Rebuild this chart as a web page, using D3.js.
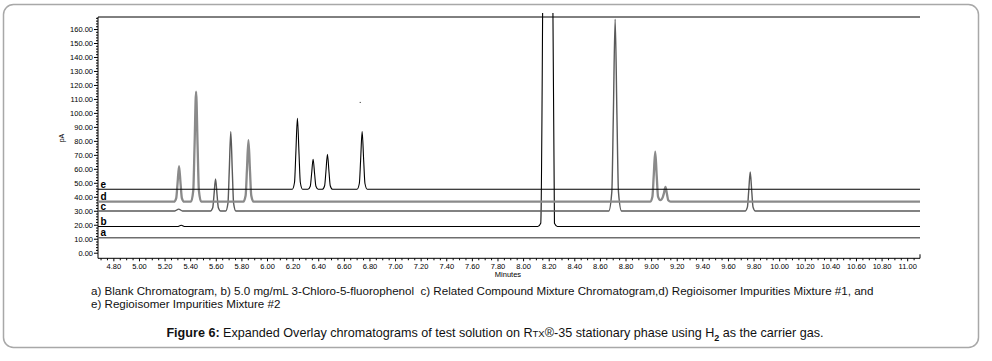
<!DOCTYPE html>
<html>
<head>
<meta charset="utf-8">
<script src="https://cdn.jsdelivr.net/npm/d3@7"></script>
<style>
  body { margin: 0; background: #fff; }
  svg { display: block; font-family: "Liberation Sans", Arial, sans-serif; }
  .tick text { font-size: 7.5px; fill: #000; }
  .domain, .tick line { stroke: #000; }
</style>
</head>
<body>
<script>
var width = 992;
var height = 361;

// y tick labels 0..160 (pA), x tick labels 4.80..11.00 (minutes)
var yTicks = [0, 10, 20, 30, 40, 50, 60, 70, 80, 90, 100, 110, 120, 130, 140, 150, 160];
var xTicks = [4.8, 5.0, 5.2, 5.4, 5.6, 5.8, 6.0, 6.2, 6.4, 6.6, 6.8, 7.0, 7.2, 7.4, 7.6, 7.8, 8.0,
  8.2, 8.4, 8.6, 8.8, 9.0, 9.2, 9.4, 9.6, 9.8, 10.0, 10.2, 10.4, 10.6, 10.8, 11.0];

var traceNames = ['a', 'b', 'c', 'd', 'e'];
var baselines = [10.7, 18.7, 29.8, 36.5, 45.35];

// chromatogram points [minutes, pA]
var traceA = [[4.68, 10.7], [11.1, 10.7]];
var traceB = [[4.68, 18.7], [5.30, 18.7], [5.33, 19.6], [5.36, 18.7],
  [8.115, 18.7], [8.138, 21], [8.172, 400], [8.215, 400], [8.245, 21], [8.268, 18.7], [11.1, 18.7]];
var traceC = [[4.68, 29.8], [5.28, 29.8], [5.31, 31.2], [5.34, 29.8],
  [5.558, 29.8], [5.576, 32.1], [5.586, 41.3], [5.598, 52.7], [5.61, 41.3], [5.62, 32.1], [5.638, 29.8],
  [5.677, 29.8], [5.695, 35.5], [5.705, 58.2], [5.717, 86.6], [5.729, 58.2], [5.739, 35.5], [5.757, 29.8],
  [8.669, 29.8], [8.693, 43.5], [8.705, 98.4], [8.719, 167], [8.733, 98.4], [8.745, 43.5], [8.769, 29.8],
  [9.734, 29.8], [9.752, 32.6], [9.762, 43.8], [9.774, 57.7], [9.786, 43.8], [9.796, 32.6], [9.814, 29.8],
  [11.1, 29.8]];
var traceD = [[4.68, 36.5],
  [5.273, 36.5], [5.291, 39.1], [5.301, 49.3], [5.313, 62], [5.325, 49.3], [5.335, 39.1], [5.353, 36.5],
  [5.406, 36.5], [5.424, 44.4], [5.434, 75.9], [5.446, 115.2], [5.458, 75.9], [5.468, 44.4], [5.486, 36.5],
  [5.815, 36.5], [5.833, 40.9], [5.843, 58.6], [5.855, 80.6], [5.867, 58.6], [5.877, 40.9], [5.895, 36.5],
  [8.992, 36.5], [9.01, 40.1], [9.02, 54.4], [9.032, 72.2], [9.044, 54.4], [9.054, 40.1], [9.072, 37.6],
  [9.092, 40], [9.1, 42.5], [9.112, 47], [9.124, 41.8], [9.134, 37.5], [9.152, 36.5],
  [11.1, 36.5]];
var traceE = [[4.68, 45.35],
  [6.197, 45.35], [6.215, 50.4], [6.225, 70.8], [6.2375, 96.2], [6.25, 70.8], [6.26, 50.4], [6.278, 45.35],
  [6.32, 45.35], [6.338, 47.5], [6.348, 56.1], [6.36, 66.8], [6.372, 56.1], [6.382, 47.5], [6.40, 45.35],
  [6.432, 45.35], [6.45, 47.9], [6.46, 57.9], [6.472, 70.4], [6.484, 57.9], [6.494, 47.9], [6.512, 45.35],
  [6.703, 45.35], [6.721, 49.5], [6.731, 66], [6.743, 86.6], [6.755, 66], [6.765, 49.5], [6.783, 45.35],
  [11.1, 45.35]];

// stray speck visible in the scan
var specks = [[6.728, 107.5]];

var traces = [traceA, traceB, traceC, traceD, traceE];
var traceColor = ['#6e6e6e', '#000', '#5a5a5a', '#8a8a8a', '#000'];
var traceWidth = [1.5, 1.1, 1.4, 2.3, 1.1];

var svg = d3.select('body').append('svg')
    .attr('width', width)
    .attr('height', height);

// outer figure box
svg.append('rect')
    .attr('x', 3.5).attr('y', 4.5)
    .attr('width', 975).attr('height', 343)
    .attr('rx', 10)
    .attr('fill', 'none')
    .attr('stroke', '#a8a8a8')
    .attr('stroke-width', 1.5);

var x = d3.scaleLinear().domain([4.68, 11.1]).range([98, 920]);
var y = d3.scaleLinear().domain([-4, 168.6]).range([258.3, 17]);

// minor ticks
var yMinor = d3.range(0, 169, 2).filter((v) => v % 10 !== 0);
var xMinor = d3.range(4.70, 11.1, 0.05).filter((v) => Math.abs(v * 5 - Math.round(v * 5)) > 0.01);

svg.append('g')
    .attr('transform', 'translate(98,0)')
    .call(d3.axisLeft(y).tickValues(yMinor).tickSize(2).tickFormat(''))
    .select('.domain').remove();

svg.append('g')
    .attr('transform', 'translate(0,258.3)')
    .call(d3.axisBottom(x).tickValues(xMinor).tickSize(2).tickFormat(''))
    .select('.domain').remove();

svg.append('g')
    .attr('transform', 'translate(98,0)')
    .call(d3.axisLeft(y).tickValues(yTicks).tickSize(4).tickPadding(1).tickFormat(d3.format('.2f')))
    .select('.domain').attr('d', 'M0,17V258.3');

svg.append('g')
    .attr('transform', 'translate(0,258.3)')
    .call(d3.axisBottom(x).tickValues(xTicks).tickSize(3).tickPadding(2).tickFormat(d3.format('.2f')))
    .select('.domain').attr('d', 'M98,0H920V-4');

// top border of the plot
svg.append('line')
    .attr('x1', 98).attr('x2', 920)
    .attr('y1', 17).attr('y2', 17)
    .attr('stroke', '#000');

svg.append('text')
    .attr('transform', 'translate(64,138) rotate(-90)')
    .attr('text-anchor', 'middle')
    .attr('font-size', 7)
    .text('pA');

svg.append('text')
    .attr('x', 508).attr('y', 277)
    .attr('text-anchor', 'middle')
    .attr('font-size', 7.5)
    .text('Minutes');

svg.append('clipPath').attr('id', 'plot')
  .append('rect')
    .attr('x', 98).attr('y', 13)
    .attr('width', 822).attr('height', 246);

var line = d3.line()
    .x((d) => x(d[0]))
    .y((d) => y(d[1]))
    .curve(d3.curveMonotoneX);

svg.append('g')
    .attr('clip-path', 'url(#plot)')
  .selectAll('path')
    .data(traces)
    .enter().append('path')
    .attr('d', line)
    .attr('fill', 'none')
    .attr('stroke', (d, i) => traceColor[i])
    .attr('stroke-width', (d, i) => traceWidth[i])
    .attr('stroke-linejoin', 'round');

svg.append('g')
  .selectAll('rect')
    .data(specks)
    .enter().append('rect')
    .attr('x', (d) => x(d[0]) - 0.5)
    .attr('y', (d) => y(d[1]) - 0.5)
    .attr('width', 1).attr('height', 1)
    .attr('fill', '#222');

svg.append('g')
  .selectAll('text')
    .data(traceNames)
    .enter().append('text')
    .attr('x', 100.5)
    .attr('y', (d, i) => y(baselines[i]) - 1.5)
    .attr('font-size', 10)
    .attr('font-weight', 'bold')
    .text((d) => d);

// caption
var caption = svg.append('g').attr('font-size', 11.6).attr('fill', '#111');
caption.append('text')
    .attr('x', 91).attr('y', 295)
    .attr('xml:space', 'preserve')
    .text('a) Blank Chromatogram, b) 5.0 mg/mL 3-Chloro-5-fluorophenol  c) Related Compound Mixture Chromatogram,d) Regioisomer Impurities Mixture #1, and');
caption.append('text')
    .attr('x', 91).attr('y', 308)
    .text('e) Regioisomer Impurities Mixture #2');

var title = svg.append('text')
    .attr('x', 495).attr('y', 337)
    .attr('text-anchor', 'middle')
    .attr('font-size', 12.6)
    .attr('fill', '#111');
title.append('tspan').attr('font-weight', 'bold').text('Figure 6:');
title.append('tspan').text(' Expanded Overlay chromatograms of test solution on R');
title.append('tspan').attr('font-size', 9.5).text('TX');
title.append('tspan').text('®-35 stationary phase using H');
title.append('tspan').attr('font-size', 9).attr('font-weight', 'bold').attr('dy', 4).text('2');
title.append('tspan').attr('dy', -4).text(' as the carrier gas.');
</script>
</body>
</html>
